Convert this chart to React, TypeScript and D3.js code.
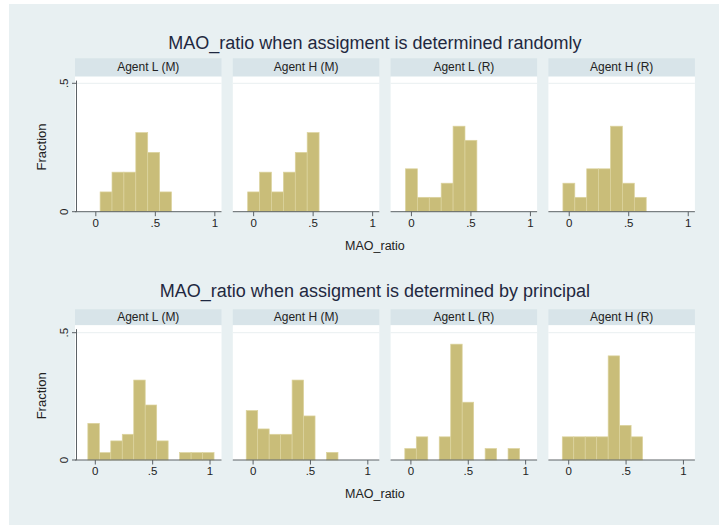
import * as d3 from "d3";

const WIDTH = 719;
const HEIGHT = 525;

const PANELS = ["Agent L (M)", "Agent H (M)", "Agent L (R)", "Agent H (R)"];
const TITLES = [
  "MAO_ratio when assigment is determined randomly",
  "MAO_ratio when assigment is determined by principal",
];
const X_TICKS = [0, 0.5, 1];
const Y_TICKS = [0, 0.5];
const BIN_WIDTH = 0.1;

// left edge of the first bin, per panel
const RANDOM_BIN_START = [0.036, -0.05, -0.05, -0.053];
const PRINCIPAL_BIN_START = [-0.065, -0.06, -0.053, -0.056];

// fraction per bin, per panel
const RANDOM_FRACTION = [
  [0.077, 0.154, 0.154, 0.308, 0.231, 0.077],
  [0.077, 0.154, 0.077, 0.154, 0.231, 0.308],
  [0.167, 0.056, 0.056, 0.111, 0.333, 0.278],
  [0.111, 0.056, 0.167, 0.167, 0.333, 0.111, 0.056],
];
const PRINCIPAL_FRACTION = [
  [0.144, 0.029, 0.075, 0.101, 0.314, 0.216, 0.075, 0, 0.029, 0.029, 0.029],
  [0.194, 0.122, 0.101, 0.101, 0.314, 0.173, 0, 0.03],
  [0.045, 0.091, 0, 0.091, 0.455, 0.227, 0, 0.045, 0, 0.045],
  [0.091, 0.091, 0.091, 0.091, 0.409, 0.136, 0.091],
];

const FONT = "'Liberation Sans', Arial, Helvetica, sans-serif";
const BG = "#e8f0f2";
const STRIP = "#d8e4e9";
const BAR = "#c9bd79";
const BAR_EDGE = "#dcd39e";
const AXIS = "#5c6266";
const TEXT = "#222";

const PANEL_LEFT = 75;
const PANEL_STEP = 157.8;
const PANEL_W = 146.5;

const ROWS = [
  {
    title: TITLES[0],
    starts: RANDOM_BIN_START,
    fractions: RANDOM_FRACTION,
    xDomain: [-0.175, 1.056],
    titleY: 48.5,
    stripTop: 58.3,
    plotTop: 76.6,
    yZero: 211.7,
    yHalf: 83.3,
  },
  {
    title: TITLES[1],
    starts: PRINCIPAL_BIN_START,
    fractions: PRINCIPAL_FRACTION,
    xDomain: [-0.177, 1.1],
    titleY: 297.3,
    stripTop: 309.3,
    plotTop: 325.2,
    yZero: 460,
    yHalf: 332.7,
  },
];

const fmt = (v: number) => (v === 0 ? "0" : v === 1 ? "1" : String(v).replace(/^0\./, "."));

const Row = ({ row }: { row: (typeof ROWS)[number] }) => {
  const yScale = d3.scaleLinear().domain([0, 0.5]).range([row.yZero, row.yHalf]);
  const centerX = PANEL_LEFT + (3 * PANEL_STEP + PANEL_W) / 2 - 10;

  return (
    <g>
      <text
        x={centerX}
        y={row.titleY}
        textAnchor="middle"
        fontSize={18}
        fill="#1f2840"
      >
        {row.title}
      </text>

      {PANELS.map((name, p) => {
        const left = PANEL_LEFT + p * PANEL_STEP;
        const xScale = d3
          .scaleLinear()
          .domain(row.xDomain)
          .range([left, left + PANEL_W]);
        const values = row.fractions[p];

        return (
          <g key={p}>
            <rect
              x={left}
              y={row.stripTop}
              width={PANEL_W}
              height={row.plotTop - row.stripTop}
              fill={STRIP}
            />
            <text
              x={left + PANEL_W / 2}
              y={(row.stripTop + row.plotTop) / 2}
              textAnchor="middle"
              dominantBaseline="central"
              fontSize={12}
              fill={TEXT}
            >
              {name}
            </text>
            <rect
              x={left}
              y={row.plotTop}
              width={PANEL_W}
              height={row.yZero - row.plotTop}
              fill="#fff"
            />
            <line
              x1={left}
              x2={left + PANEL_W}
              y1={yScale(0.5)}
              y2={yScale(0.5)}
              stroke="#e9eff1"
            />
            {values.map((v, i) => {
              if (v <= 0) return null;
              const x0 = xScale(row.starts[p] + i * BIN_WIDTH);
              const x1 = xScale(row.starts[p] + (i + 1) * BIN_WIDTH);
              return (
                <rect
                  key={i}
                  x={x0}
                  y={yScale(v)}
                  width={x1 - x0}
                  height={yScale(0) - yScale(v)}
                  fill={BAR}
                  stroke={BAR_EDGE}
                  strokeWidth={0.7}
                />
              );
            })}
            <line
              x1={left}
              x2={left + PANEL_W}
              y1={row.yZero}
              y2={row.yZero}
              stroke={AXIS}
              strokeWidth={1}
            />
            {X_TICKS.map((t) => (
              <g key={t}>
                <line
                  x1={xScale(t)}
                  x2={xScale(t)}
                  y1={row.yZero}
                  y2={row.yZero + 4.5}
                  stroke={AXIS}
                />
                <text
                  x={xScale(t)}
                  y={row.yZero + 11}
                  textAnchor="middle"
                  dominantBaseline="central"
                  fontSize={11.5}
                  fill={TEXT}
                >
                  {fmt(t)}
                </text>
              </g>
            ))}
            {p === 0 && (
              <g>
                <line
                  x1={left + 1.5}
                  x2={left + 1.5}
                  y1={row.plotTop + 4}
                  y2={row.yZero}
                  stroke={AXIS}
                />
                {Y_TICKS.map((t) => (
                  <g key={t}>
                    <line
                      x1={left + 1.5 - 4.5}
                      x2={left + 1.5}
                      y1={yScale(t)}
                      y2={yScale(t)}
                      stroke={AXIS}
                    />
                    <text
                      transform={`translate(${left - 11.5},${yScale(t)}) rotate(-90)`}
                      textAnchor="middle"
                      dominantBaseline="central"
                      fontSize={11.5}
                      fill={TEXT}
                    >
                      {fmt(t)}
                    </text>
                  </g>
                ))}
                <text
                  transform={`translate(${41.7},${(row.yZero + row.yHalf) / 2 - 0.5}) rotate(-90)`}
                  textAnchor="middle"
                  dominantBaseline="central"
                  fontSize={13}
                  fill={TEXT}
                >
                  Fraction
                </text>
              </g>
            )}
          </g>
        );
      })}

      <text
        x={centerX}
        y={row.yZero + 34}
        textAnchor="middle"
        dominantBaseline="central"
        fontSize={12.5}
        fill={TEXT}
      >
        MAO_ratio
      </text>
    </g>
  );
};

export default function App() {
  return (
    <svg
      width={WIDTH}
      height={HEIGHT}
      style={{ position: "absolute", left: 0, top: 0, fontFamily: FONT }}
    >
      <rect width={WIDTH} height={HEIGHT} fill="#fff" />
      <rect x={9} y={4} width={WIDTH - 9} height={HEIGHT - 4} fill={BG} />
      {ROWS.map((row, i) => (
        <Row key={i} row={row} />
      ))}
    </svg>
  );
}
